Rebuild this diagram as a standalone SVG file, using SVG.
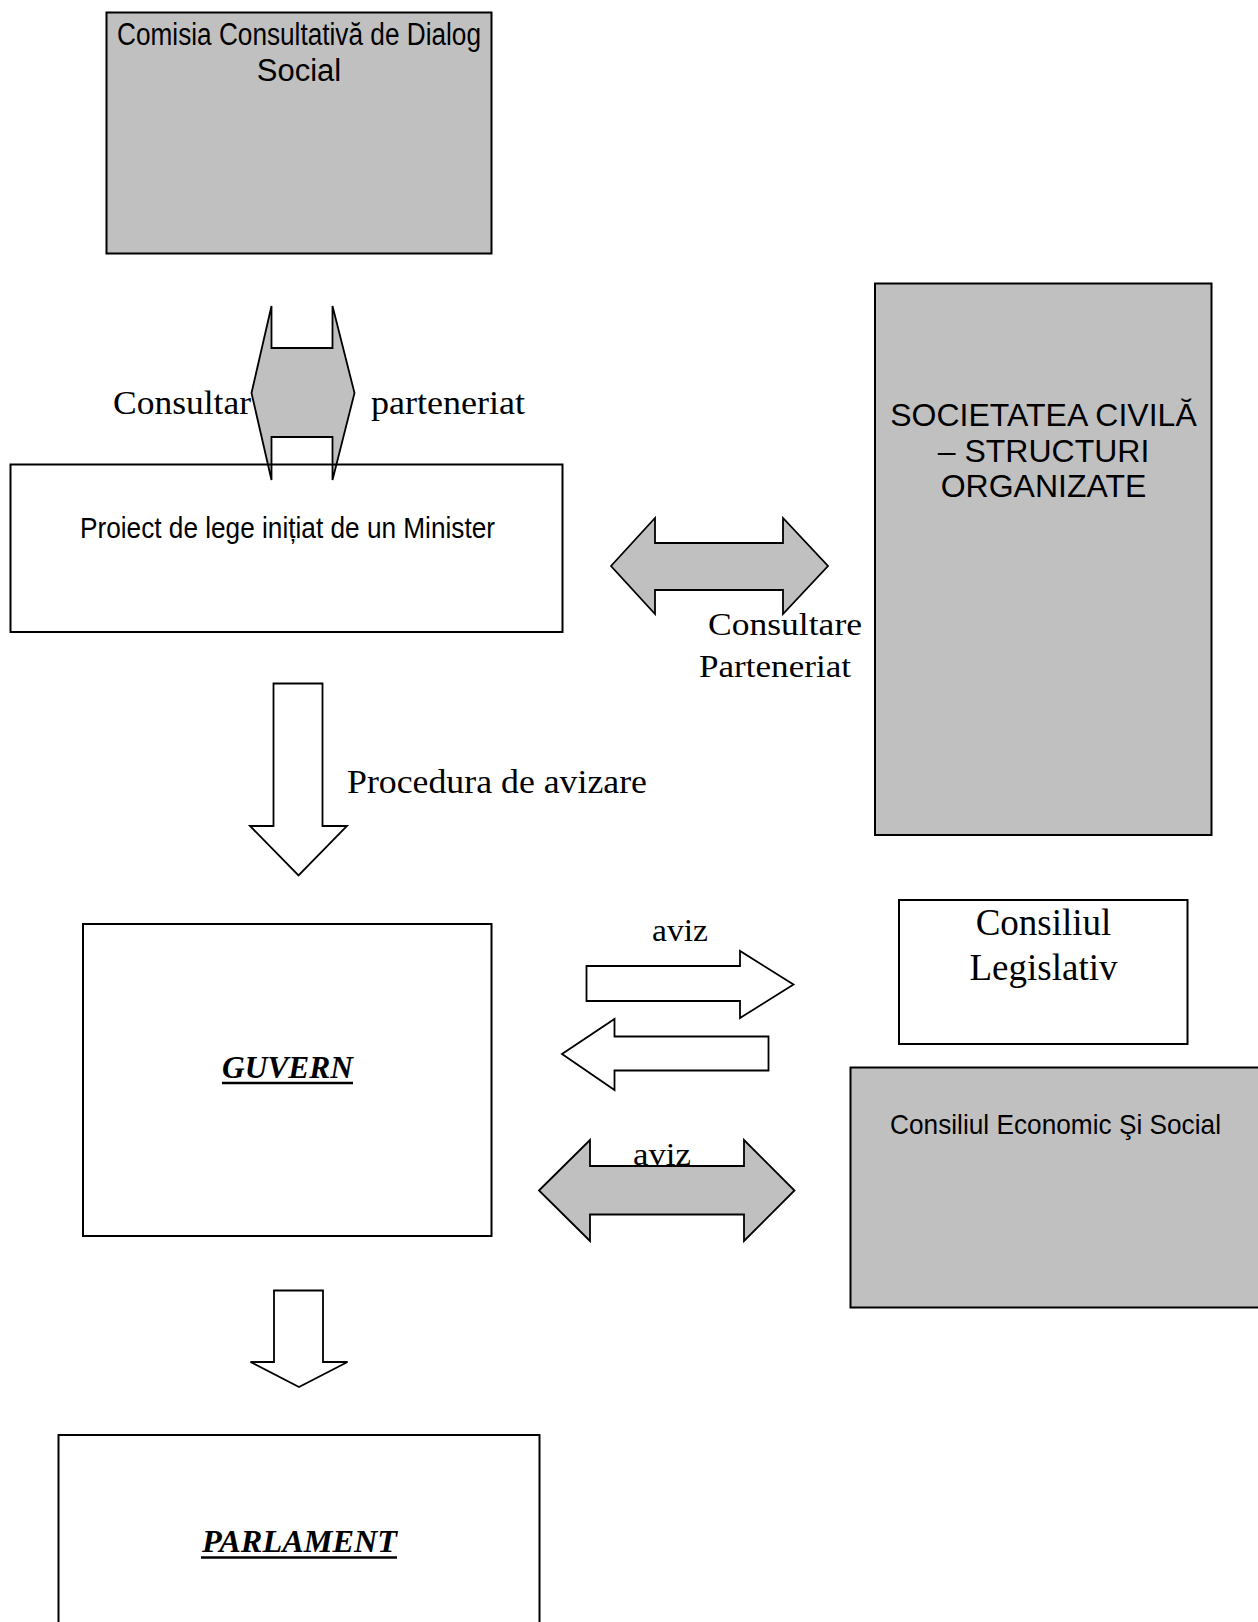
<svg xmlns="http://www.w3.org/2000/svg" width="1258" height="1622" viewBox="0 0 1258 1622">
  <style>
    .box { stroke: #000; stroke-width: 2; }
    .grey { fill: #c0c0c0; }
    .white { fill: #fff; }
    .arrow { stroke: #000; stroke-width: 1.8; stroke-linejoin: miter; }
    .sans { font-family: "Liberation Sans", Arial, sans-serif; fill: #000; }
    .serif { font-family: "Liberation Serif", "Times New Roman", serif; fill: #000; }
    .title { font-family: "Liberation Serif", "Times New Roman", serif; font-weight: bold; font-style: italic; font-size: 32px; fill: #000; }
  </style>

  <rect x="0" y="0" width="1258" height="1622" fill="#fff"/>

  <!-- flow arrows and their labels -->
  <g id="connectors">
    <!-- consultation between the commission and the draft law -->
    <polygon class="arrow grey" points="251.5,393 271.5,306 271.5,348 332.5,348 332.5,306 354.5,393 332.5,480 332.5,437 271.5,437 271.5,480"/>
    <text class="serif" x="113" y="414" font-size="33" textLength="138" lengthAdjust="spacingAndGlyphs">Consultar</text>
    <text class="serif" x="371" y="414" font-size="33" textLength="154" lengthAdjust="spacingAndGlyphs">parteneriat</text>

    <!-- consultation with civil society -->
    <polygon class="arrow grey" points="611,566 655,518 655,543 783,543 783,518 828,566 783,614 783,590 655,590 655,614"/>
    <text class="serif" x="708" y="635" font-size="32" textLength="154" lengthAdjust="spacingAndGlyphs">Consultare</text>
    <text class="serif" x="699" y="677" font-size="32" textLength="152" lengthAdjust="spacingAndGlyphs">Parteneriat</text>

    <!-- endorsement procedure -->
    <polygon class="arrow white" points="273.5,683.5 322.5,683.5 322.5,826 347,826 298.5,875.5 250,826 273.5,826"/>
    <text class="serif" x="347" y="793" font-size="33" textLength="300" lengthAdjust="spacingAndGlyphs">Procedura de avizare</text>

    <!-- opinion of the Legislative Council -->
    <text class="serif" x="652" y="941" font-size="32" textLength="56" lengthAdjust="spacingAndGlyphs">aviz</text>
    <polygon class="arrow white" points="586.5,966 740,966 740,951 793.5,984.5 740,1018 740,1001 586.5,1001"/>
    <polygon class="arrow white" points="768.5,1036.5 614.5,1036.5 614.5,1019 562,1054 614.5,1090 614.5,1070.5 768.5,1070.5"/>

    <!-- opinion of the Economic and Social Council -->
    <polygon class="arrow grey" points="539,1190.5 590,1140 590,1166 744,1166 744,1140 794.5,1190.5 744,1241 744,1214.5 590,1214.5 590,1241"/>
    <text class="serif" x="633" y="1165" font-size="32" textLength="58" lengthAdjust="spacingAndGlyphs">aviz</text>

    <!-- government to parliament -->
    <polygon class="arrow white" points="274,1290.5 323,1290.5 323,1362 347.5,1362 299,1387 250.5,1362 274,1362"/>
  </g>

  <g id="comisia">
    <rect class="box grey" x="106.5" y="12.5" width="385" height="241"/>
    <text class="sans" x="117" y="45" font-size="31" textLength="364" lengthAdjust="spacingAndGlyphs">Comisia Consultativă de Dialog</text>
    <text class="sans" x="299" y="81" font-size="31" text-anchor="middle">Social</text>
  </g>

  <g id="proiect">
    <rect class="box" fill="none" x="10.5" y="464.5" width="552" height="167.5"/>
    <text class="sans" x="80" y="538" font-size="29" textLength="415" lengthAdjust="spacingAndGlyphs">Proiect de lege inițiat de un Minister</text>
  </g>

  <g id="societatea">
    <rect class="box grey" x="875" y="283.5" width="336.5" height="551.5"/>
    <text class="sans" x="1043.5" y="426" font-size="32" text-anchor="middle">SOCIETATEA CIVILĂ</text>
    <text class="sans" x="1043.5" y="462" font-size="32" text-anchor="middle">– STRUCTURI</text>
    <text class="sans" x="1043.5" y="497" font-size="32" text-anchor="middle">ORGANIZATE</text>
  </g>

  <g id="guvern">
    <rect class="box white" x="83" y="924" width="408.5" height="312"/>
    <text class="title" x="222" y="1078" textLength="131" lengthAdjust="spacingAndGlyphs">GUVERN</text>
    <line x1="222" y1="1083" x2="353" y2="1083" stroke="#000" stroke-width="2.6"/>
  </g>

  <g id="consiliul-legislativ">
    <rect class="box white" x="899" y="900" width="288.5" height="144"/>
    <text class="serif" x="1043.5" y="935" font-size="37" text-anchor="middle">Consiliul</text>
    <text class="serif" x="1043.5" y="980" font-size="37" text-anchor="middle">Legislativ</text>
  </g>

  <g id="consiliul-economic">
    <rect class="box grey" x="850.5" y="1067.5" width="420" height="240"/>
    <text class="sans" x="890" y="1134" font-size="28" textLength="331" lengthAdjust="spacingAndGlyphs">Consiliul Economic Şi Social</text>
  </g>

  <g id="parlament">
    <rect class="box white" x="58.5" y="1435" width="481" height="200"/>
    <text class="title" x="202" y="1552" textLength="195" lengthAdjust="spacingAndGlyphs">PARLAMENT</text>
    <line x1="201" y1="1557.5" x2="397" y2="1557.5" stroke="#000" stroke-width="2.6"/>
  </g>
</svg>
